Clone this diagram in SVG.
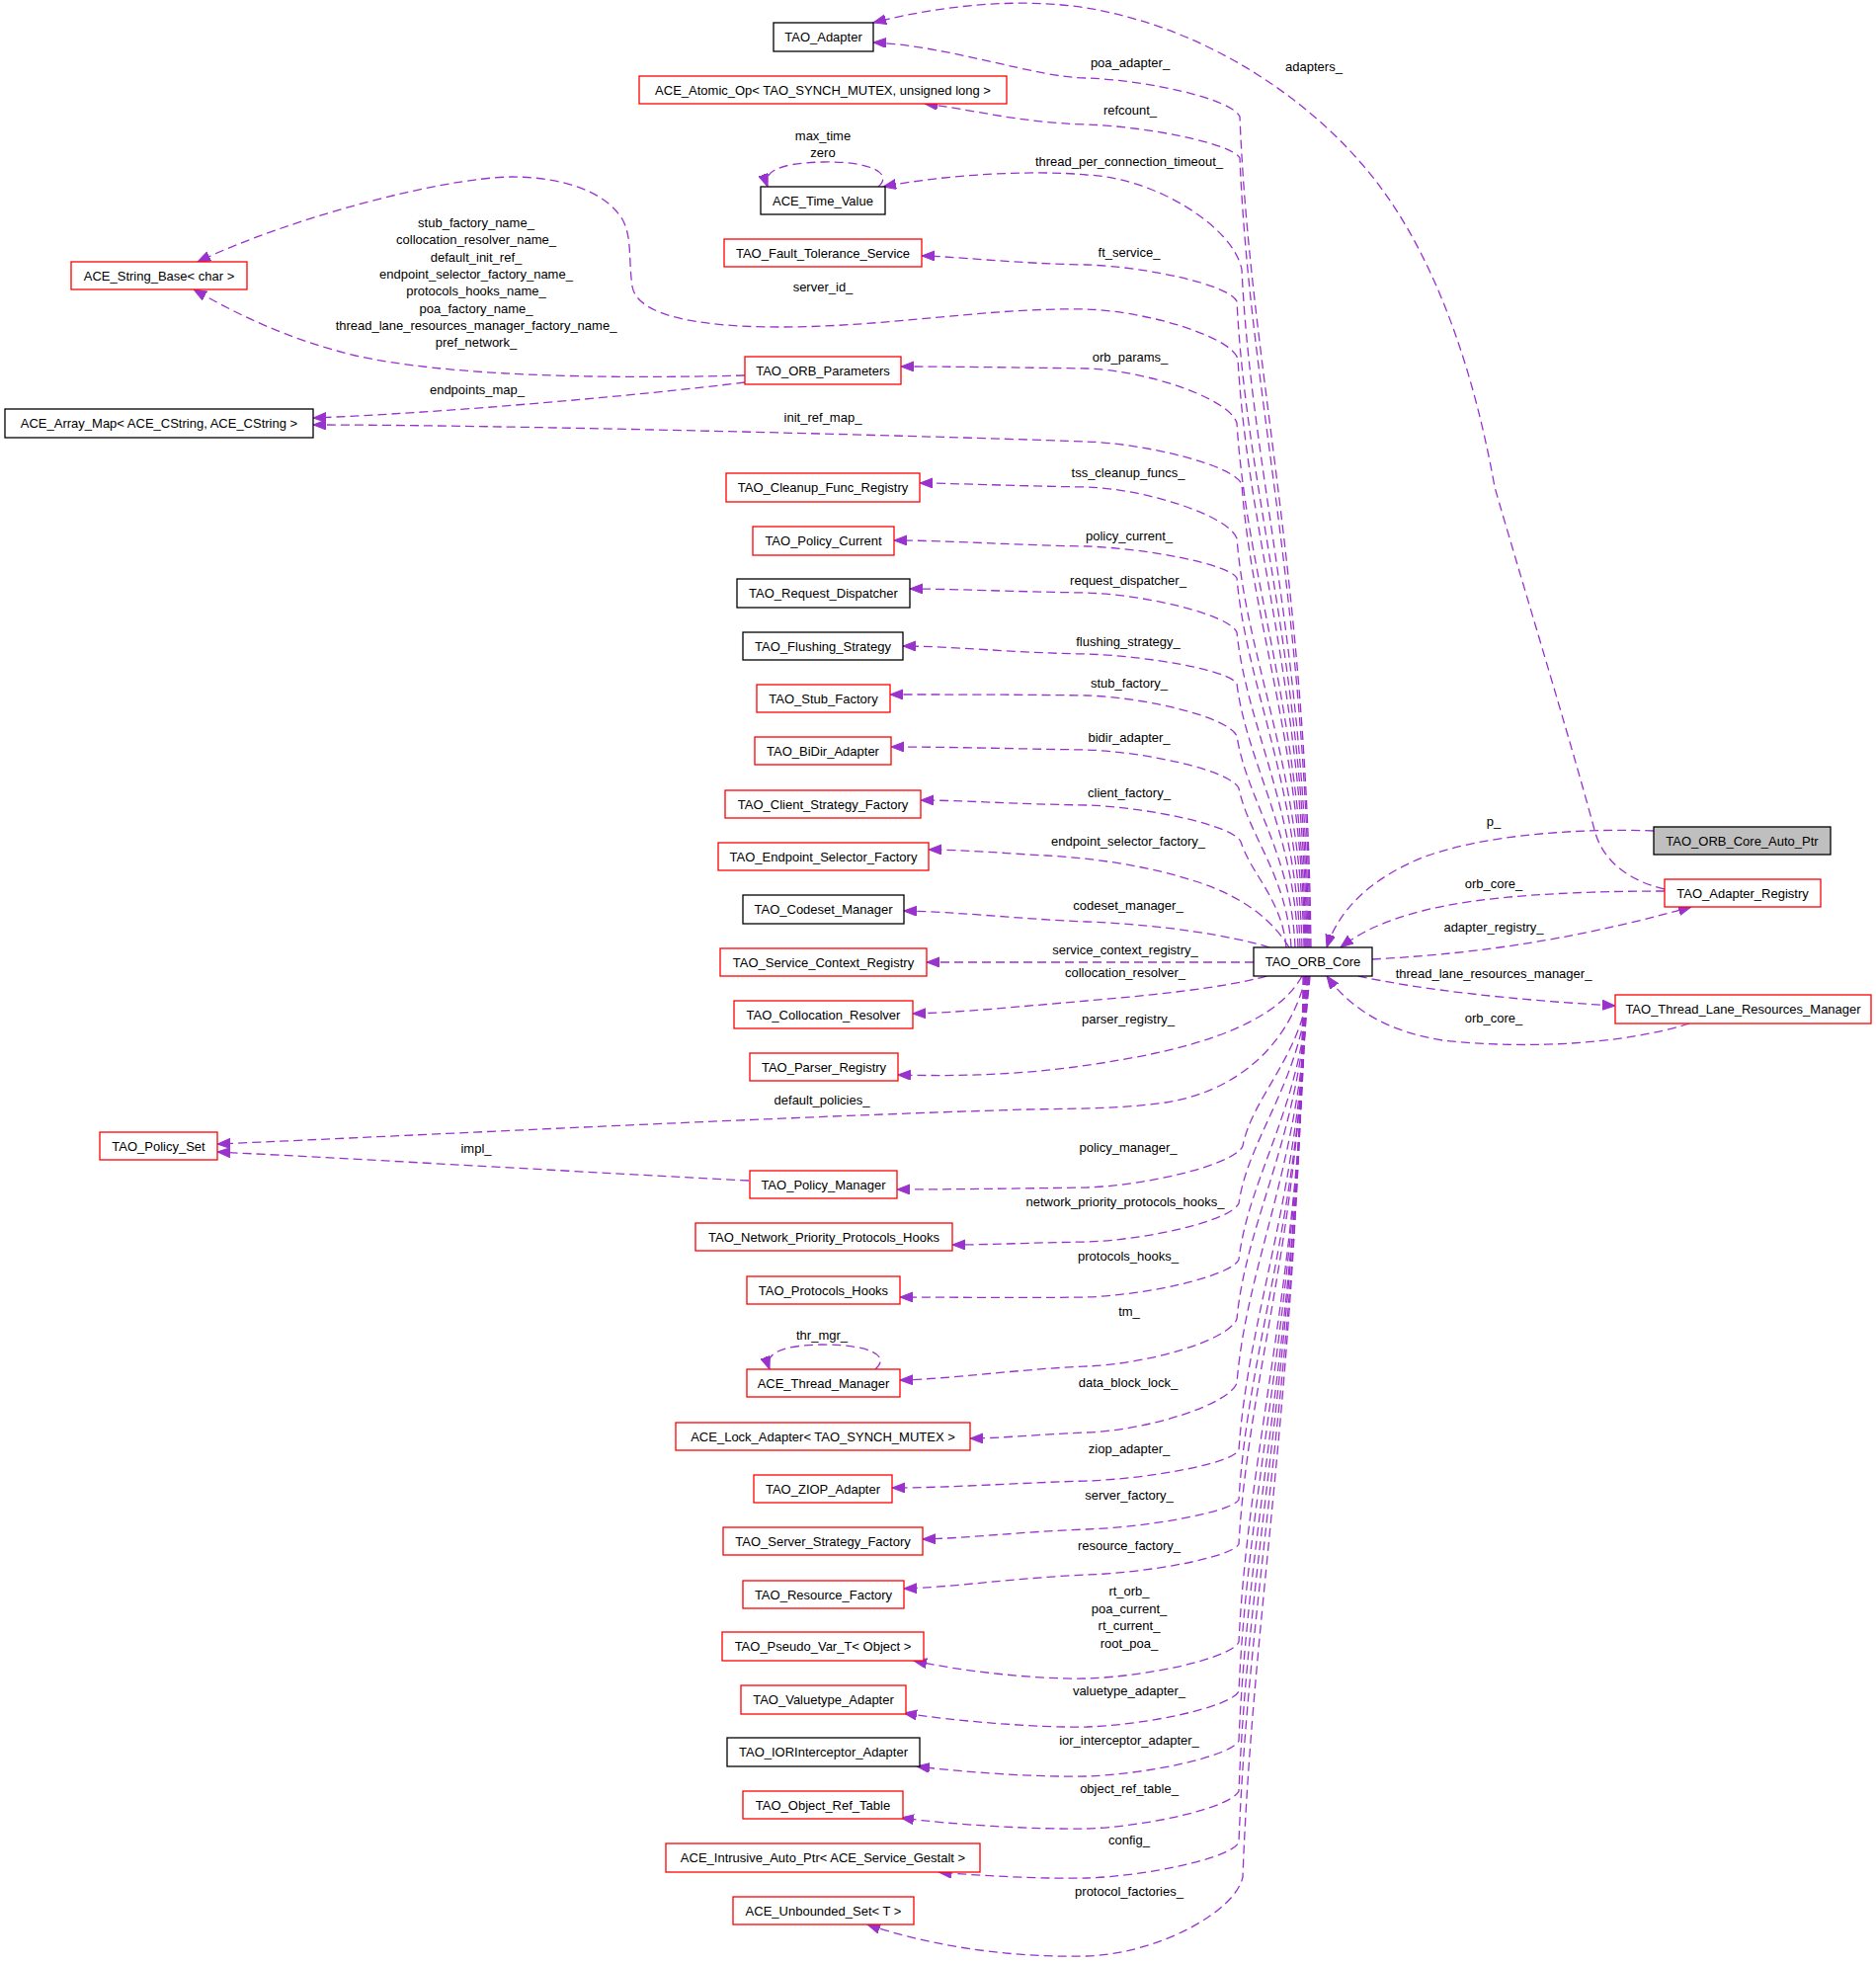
<svg xmlns="http://www.w3.org/2000/svg" width="1899" height="1988" viewBox="0 0 1899 1988">
<defs>
<marker id="a" markerUnits="userSpaceOnUse" markerWidth="14" markerHeight="12" refX="13" refY="5" orient="auto">
<path d="M0,0 L13,5 L0,10 Z" fill="#9a32cd" stroke="#9a32cd" stroke-width="1"/>
</marker>
<style>
rect{fill:#fff;stroke-width:1.3}
.r{stroke:#ff0000}
.k{stroke:#000}
.g{fill:#bfbfbf;stroke:#000}
text{font-family:"Liberation Sans",Arial,Helvetica,sans-serif;font-size:13px;fill:#000;text-anchor:middle}
#edges path{fill:none;stroke:#9a32cd;stroke-width:1.3;stroke-dasharray:9,5;marker-end:url(#a)}
</style>
</defs>
<rect x="0" y="0" width="1899" height="1988" style="fill:#fff;stroke:none"/>
<g id="edges">
<path d="M1685,900 C1650,892 1622,872 1614,840 C1590,750 1535,570 1513,493 C1500,420 1470,290 1400,193 C1340,110 1230,30 1100,8 C1030,-3 950,6 884,23"/>
<path d="M1327,959 C1323,580 1265,370 1255,118 C1247,100 1160,81 1100,79 C1050,79 960,46 884,43"/>
<path d="M1326,959 C1322,599 1265,400 1255,160 C1247,145 1160,128 1100,126 C1030,124 980,110 936,105"/>
<path d="M1325,959 C1321,650 1267,479 1257,273 C1249,230 1170,180 1100,177 C1050,172 960,176 894,189"/>
<path d="M1324,959 C1320,665 1262,501 1252,305 C1244,288 1160,270 1100,268 C1030,267 960,259 933,259"/>
<path d="M1323,959 C1319,691 1263,542 1253,363 C1245,340 1160,315 1100,313 C1000,311 900,331 790,331 C700,331 645,318 640,290 C636,262 640,240 630,222 C612,192 565,179 518,179 C445,180 290,222 200,265"/>
<path d="M1322,959 C1318,720 1262,587 1252,428 C1244,403 1160,375 1100,373 C1030,372 960,371 912,371"/>
<path d="M1321,959 C1317,748 1267,631 1257,490 C1249,471 1160,449 1100,447 C900,440 500,430 317,430"/>
<path d="M754,387 C650,400 450,418 317,423"/>
<path d="M754,380 C600,384 450,380 360,360 C290,343 240,318 196,293"/>
<path d="M1320,959 C1316,773 1262,669 1252,545 C1244,522 1160,495 1100,493 C1030,492 960,489 931,489"/>
<path d="M1318,959 C1314,791 1262,697 1252,585 C1244,571 1160,555 1100,553 C1030,552 960,547 905,547"/>
<path d="M1316,959 C1312,815 1262,736 1252,640 C1244,622 1160,602 1100,600 C1030,599 960,596 921,596"/>
<path d="M1314,959 C1310,839 1262,772 1252,692 C1244,678 1160,664 1100,662 C1030,661 960,654 914,654"/>
<path d="M1311,959 C1307,863 1262,809 1252,745 C1244,726 1160,706 1100,704 C1030,703 960,703 901,703"/>
<path d="M1307,959 C1303,887 1264,846 1254,798 C1246,780 1160,761 1100,759 C1030,758 960,756 902,756"/>
<path d="M1302,959 C1298,911 1266,884 1256,852 C1248,835 1160,817 1100,815 C1030,814 970,810 932,810"/>
<path d="M1305,959 C1290,935 1265,910 1210,892 C1160,876 1110,869 1060,866 C1020,864 975,860 940,860"/>
<path d="M1285,959 C1250,948 1180,936 1100,933 C1030,930 970,923 915,922"/>
<path d="M1269,974 L938,974"/>
<path d="M1282,988 C1240,1000 1160,1008 1100,1013 C1030,1019 970,1025 924,1026"/>
<path d="M1318,988 C1295,1030 1230,1055 1150,1070 C1060,1087 990,1090 909,1088"/>
<path d="M1322,988 C1305,1060 1250,1105 1180,1116 C1130,1123 1080,1122 1040,1123 C800,1130 450,1148 220,1158"/>
<path d="M758,1195 C600,1187 400,1175 220,1166"/>
<path d="M1326,988 C1322,1065 1268,1108 1258,1160 C1250,1179 1160,1200 1100,1202 C1030,1203 960,1204 908,1204"/>
<path d="M1325,988 C1321,1091 1264,1149 1254,1218 C1246,1236 1160,1255 1100,1257 C1040,1258 1000,1260 964,1260"/>
<path d="M1325,988 C1321,1117 1264,1189 1254,1275 C1246,1292 1160,1311 1100,1313 C1030,1314 960,1313 911,1313"/>
<path d="M1324,988 C1320,1144 1262,1231 1252,1335 C1244,1357 1160,1381 1100,1383 C1030,1386 960,1396 911,1397"/>
<path d="M889,189 C905,175 880,163 833,164 C785,165 772,175 777,189"/>
<path d="M886,1386 C902,1372 880,1361 832,1361 C785,1362 774,1372 779,1386"/>
<path d="M1324,988 C1320,1173 1262,1276 1252,1400 C1244,1422 1160,1448 1100,1450 C1050,1452 1010,1456 982,1456"/>
<path d="M1323,988 C1319,1204 1264,1324 1254,1468 C1246,1482 1160,1497 1100,1499 C1030,1501 960,1506 903,1506"/>
<path d="M1323,988 C1319,1226 1264,1359 1254,1518 C1246,1531 1160,1546 1100,1548 C1040,1550 980,1557 934,1558"/>
<path d="M1322,988 C1318,1247 1264,1390 1254,1563 C1246,1577 1160,1592 1100,1594 C1030,1597 960,1607 915,1608"/>
<path d="M1322,988 C1318,1291 1264,1460 1254,1662 C1246,1679 1160,1697 1100,1699 C1050,1700 975,1692 925,1681"/>
<path d="M1321,988 C1317,1314 1264,1495 1254,1712 C1246,1728 1160,1746 1100,1748 C1050,1749 965,1742 915,1734"/>
<path d="M1321,988 C1317,1336 1264,1530 1254,1762 C1246,1778 1160,1796 1100,1798 C1050,1799 978,1794 928,1788"/>
<path d="M1320,988 C1316,1359 1264,1565 1254,1813 C1246,1830 1160,1849 1100,1851 C1050,1852 962,1847 912,1840"/>
<path d="M1320,988 C1316,1383 1264,1602 1254,1865 C1246,1881 1160,1899 1100,1901 C1060,1902 995,1899 950,1895"/>
<path d="M1319,988 C1315,1398 1268,1626 1258,1900 C1250,1936 1170,1978 1100,1980 C1010,1982 930,1966 878,1948"/>
<path d="M1674,841 C1600,838 1500,845 1440,868 C1390,888 1355,920 1343,959"/>
<path d="M1685,902 C1600,902 1500,906 1440,922 C1400,932 1375,945 1357,959"/>
<path d="M1389,971 C1480,966 1580,955 1712,918"/>
<path d="M1375,988 C1440,1002 1530,1012 1635,1018"/>
<path d="M1710,1036 C1640,1058 1540,1062 1460,1053 C1410,1045 1370,1025 1343,988"/>
<g id="edge-labels">
<text x="1330" y="72">adapters_</text>
<text x="1144" y="68">poa_adapter_</text>
<text x="1144" y="116">refcount_</text>
<text x="833" y="142">max_time</text>
<text x="833" y="159">zero</text>
<text x="1143" y="168">thread_per_connection_timeout_</text>
<text x="1143" y="260">ft_service_</text>
<text x="833" y="295">server_id_</text>
<text x="482" y="230">stub_factory_name_</text>
<text x="482" y="247">collocation_resolver_name_</text>
<text x="482" y="264.5">default_init_ref_</text>
<text x="482" y="282">endpoint_selector_factory_name_</text>
<text x="482" y="299">protocols_hooks_name_</text>
<text x="482" y="316.5">poa_factory_name_</text>
<text x="482" y="334">thread_lane_resources_manager_factory_name_</text>
<text x="482" y="351">pref_network_</text>
<text x="1144" y="366">orb_params_</text>
<text x="483" y="399">endpoints_map_</text>
<text x="833" y="427">init_ref_map_</text>
<text x="1142" y="483">tss_cleanup_funcs_</text>
<text x="1143" y="547">policy_current_</text>
<text x="1142" y="592">request_dispatcher_</text>
<text x="1142" y="654">flushing_strategy_</text>
<text x="1143" y="696">stub_factory_</text>
<text x="1143" y="751">bidir_adapter_</text>
<text x="1143" y="807">client_factory_</text>
<text x="1142" y="856">endpoint_selector_factory_</text>
<text x="1142" y="921">codeset_manager_</text>
<text x="1139" y="966">service_context_registry_</text>
<text x="1139" y="989">collocation_resolver_</text>
<text x="1142" y="1036">parser_registry_</text>
<text x="832" y="1118">default_policies_</text>
<text x="482" y="1167">impl_</text>
<text x="1142" y="1166">policy_manager_</text>
<text x="1139" y="1221">network_priority_protocols_hooks_</text>
<text x="1142" y="1276">protocols_hooks_</text>
<text x="1143" y="1332">tm_</text>
<text x="832" y="1356">thr_mgr_</text>
<text x="1142" y="1404">data_block_lock_</text>
<text x="1143" y="1471">ziop_adapter_</text>
<text x="1143" y="1518">server_factory_</text>
<text x="1143" y="1569">resource_factory_</text>
<text x="1143" y="1615">rt_orb_</text>
<text x="1143" y="1632.5">poa_current_</text>
<text x="1143" y="1650">rt_current_</text>
<text x="1143" y="1667.5">root_poa_</text>
<text x="1143" y="1716">valuetype_adapter_</text>
<text x="1143" y="1766">ior_interceptor_adapter_</text>
<text x="1143" y="1815">object_ref_table_</text>
<text x="1143" y="1867">config_</text>
<text x="1143" y="1919">protocol_factories_</text>
<text x="1512" y="836">p_</text>
<text x="1512" y="899">orb_core_</text>
<text x="1512" y="943">adapter_registry_</text>
<text x="1512" y="990">thread_lane_resources_manager_</text>
<text x="1512" y="1035">orb_core_</text>
</g>
</g>
<g id="n-TAO_Adapter"><rect class="k" x="783" y="23" width="101" height="29"/><text x="833.5" y="42">TAO_Adapter</text></g>
<g id="n-ACE_Atomic_Op"><rect class="r" x="647" y="77" width="372" height="28"/><text x="833" y="95.5">ACE_Atomic_Op&lt; TAO_SYNCH_MUTEX, unsigned long &gt;</text></g>
<g id="n-ACE_Time_Value"><rect class="k" x="770" y="189" width="126" height="28"/><text x="833" y="207.5">ACE_Time_Value</text></g>
<g id="n-TAO_Fault_Tolerance_Service"><rect class="r" x="733" y="242" width="200" height="28"/><text x="833" y="260.5">TAO_Fault_Tolerance_Service</text></g>
<g id="n-ACE_String_Base"><rect class="r" x="72" y="265" width="178" height="28"/><text x="161" y="283.5">ACE_String_Base&lt; char &gt;</text></g>
<g id="n-TAO_ORB_Parameters"><rect class="r" x="754" y="361" width="158" height="28"/><text x="833" y="379.5">TAO_ORB_Parameters</text></g>
<g id="n-ACE_Array_Map"><rect class="k" x="5" y="414" width="312" height="29"/><text x="161" y="433">ACE_Array_Map&lt; ACE_CString, ACE_CString &gt;</text></g>
<g id="n-TAO_Cleanup_Func_Registry"><rect class="r" x="735" y="479" width="196" height="29"/><text x="833" y="498">TAO_Cleanup_Func_Registry</text></g>
<g id="n-TAO_Policy_Current"><rect class="r" x="762" y="533" width="143" height="29"/><text x="833.5" y="552">TAO_Policy_Current</text></g>
<g id="n-TAO_Request_Dispatcher"><rect class="k" x="746" y="586" width="175" height="29"/><text x="833.5" y="605">TAO_Request_Dispatcher</text></g>
<g id="n-TAO_Flushing_Strategy"><rect class="k" x="752" y="640" width="162" height="28"/><text x="833" y="658.5">TAO_Flushing_Strategy</text></g>
<g id="n-TAO_Stub_Factory"><rect class="r" x="766" y="693" width="135" height="28"/><text x="833.5" y="711.5">TAO_Stub_Factory</text></g>
<g id="n-TAO_BiDir_Adapter"><rect class="r" x="764" y="746" width="138" height="28"/><text x="833" y="764.5">TAO_BiDir_Adapter</text></g>
<g id="n-TAO_Client_Strategy_Factory"><rect class="r" x="734" y="800" width="198" height="28"/><text x="833" y="818.5">TAO_Client_Strategy_Factory</text></g>
<g id="n-TAO_Endpoint_Selector_Factory"><rect class="r" x="727" y="853" width="213" height="28"/><text x="833.5" y="871.5">TAO_Endpoint_Selector_Factory</text></g>
<g id="n-TAO_Codeset_Manager"><rect class="k" x="752" y="906" width="163" height="29"/><text x="833.5" y="925">TAO_Codeset_Manager</text></g>
<g id="n-TAO_Service_Context_Registry"><rect class="r" x="729" y="960" width="209" height="28"/><text x="833.5" y="978.5">TAO_Service_Context_Registry</text></g>
<g id="n-TAO_Collocation_Resolver"><rect class="r" x="743" y="1013" width="181" height="28"/><text x="833.5" y="1031.5">TAO_Collocation_Resolver</text></g>
<g id="n-TAO_Parser_Registry"><rect class="r" x="759" y="1066" width="150" height="28"/><text x="834" y="1084.5">TAO_Parser_Registry</text></g>
<g id="n-TAO_Policy_Set"><rect class="r" x="101" y="1146" width="119" height="28"/><text x="160.5" y="1164.5">TAO_Policy_Set</text></g>
<g id="n-TAO_Policy_Manager"><rect class="r" x="759" y="1185" width="149" height="28"/><text x="833.5" y="1203.5">TAO_Policy_Manager</text></g>
<g id="n-TAO_Network_Priority_Protocols_Hooks"><rect class="r" x="704" y="1238" width="260" height="28"/><text x="834" y="1256.5">TAO_Network_Priority_Protocols_Hooks</text></g>
<g id="n-TAO_Protocols_Hooks"><rect class="r" x="756" y="1292" width="155" height="28"/><text x="833.5" y="1310.5">TAO_Protocols_Hooks</text></g>
<g id="n-ACE_Thread_Manager"><rect class="r" x="756" y="1386" width="155" height="28"/><text x="833.5" y="1404.5">ACE_Thread_Manager</text></g>
<g id="n-ACE_Lock_Adapter"><rect class="r" x="684" y="1440" width="298" height="28"/><text x="833" y="1458.5">ACE_Lock_Adapter&lt; TAO_SYNCH_MUTEX &gt;</text></g>
<g id="n-TAO_ZIOP_Adapter"><rect class="r" x="763" y="1493" width="140" height="28"/><text x="833" y="1511.5">TAO_ZIOP_Adapter</text></g>
<g id="n-TAO_Server_Strategy_Factory"><rect class="r" x="732" y="1546" width="202" height="28"/><text x="833" y="1564.5">TAO_Server_Strategy_Factory</text></g>
<g id="n-TAO_Resource_Factory"><rect class="r" x="752" y="1600" width="163" height="28"/><text x="833.5" y="1618.5">TAO_Resource_Factory</text></g>
<g id="n-TAO_Pseudo_Var_T"><rect class="r" x="731" y="1652" width="204" height="29"/><text x="833" y="1671">TAO_Pseudo_Var_T&lt; Object &gt;</text></g>
<g id="n-TAO_Valuetype_Adapter"><rect class="r" x="750" y="1706" width="167" height="29"/><text x="833.5" y="1725">TAO_Valuetype_Adapter</text></g>
<g id="n-TAO_IORInterceptor_Adapter"><rect class="k" x="736" y="1759" width="195" height="29"/><text x="833.5" y="1778">TAO_IORInterceptor_Adapter</text></g>
<g id="n-TAO_Object_Ref_Table"><rect class="r" x="752" y="1813" width="162" height="28"/><text x="833" y="1831.5">TAO_Object_Ref_Table</text></g>
<g id="n-ACE_Intrusive_Auto_Ptr"><rect class="r" x="674" y="1866" width="318" height="29"/><text x="833" y="1885">ACE_Intrusive_Auto_Ptr&lt; ACE_Service_Gestalt &gt;</text></g>
<g id="n-ACE_Unbounded_Set"><rect class="r" x="742" y="1920" width="183" height="28"/><text x="833.5" y="1938.5">ACE_Unbounded_Set&lt; T &gt;</text></g>
<g id="n-TAO_ORB_Core"><rect class="k" x="1269" y="959" width="120" height="29"/><text x="1329" y="978">TAO_ORB_Core</text></g>
<g id="n-TAO_ORB_Core_Auto_Ptr"><rect class="g" x="1674" y="837" width="179" height="28"/><text x="1763.5" y="855.5">TAO_ORB_Core_Auto_Ptr</text></g>
<g id="n-TAO_Adapter_Registry"><rect class="r" x="1685" y="890" width="158" height="28"/><text x="1764" y="908.5">TAO_Adapter_Registry</text></g>
<g id="n-TAO_Thread_Lane_Resources_Manager"><rect class="r" x="1635" y="1007" width="259" height="29"/><text x="1764.5" y="1026">TAO_Thread_Lane_Resources_Manager</text></g>
</svg>
